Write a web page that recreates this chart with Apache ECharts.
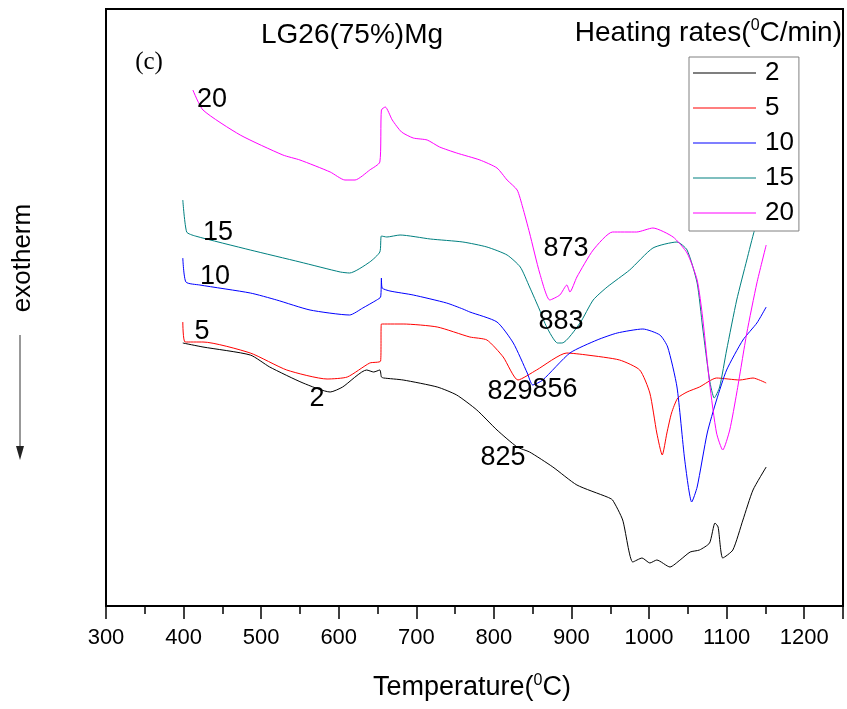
<!DOCTYPE html>
<html>
<head>
<meta charset="utf-8">
<script src="https://cdn.jsdelivr.net/npm/echarts@6/dist/echarts.min.js"></script>
<style>
  html, body { margin: 0; padding: 0; background: #fff; }
  #chart { width: 847px; height: 709px; }
</style>
</head>
<body>
<div id="chart"></div>
<script>
// heating rates (°C/min) and DSC traces, [temperature, signal a.u.]
const rates = ['2', '5', '10', '15', '20']
const colors = ['#000000', '#ff0000', '#0000ff', '#008080', '#ff00ff']

const rate2 = [[399,263],[425,259],[486,251],[511,239],[554,223],[589,214],[605,219],[636,236],[645,234],[653,236],[655,229],[658,228],[683,226],[727,219],[752,211],[778,196],[804,176],[830,159],[846,154],[876,139],[907,121],[946,109],[953,106],[966,86],[979,44],[991,48],[1001,43],[1010,46],[1027,39],[1040,46],[1053,54],[1065,56],[1078,63],[1085,83],[1089,79],[1095,48],[1108,56],[1121,86],[1134,116],[1151,139]]
const rate5 = [[399,284],[402,264],[425,264],[486,253],[533,236],[585,227],[611,229],[640,243],[654,245],[655,282],[683,282],[727,279],[769,269],[791,266],[812,249],[831,226],[855,236],[894,253],[920,251],[962,246],[988,236],[1001,213],[1010,173],[1017,151],[1023,173],[1029,193],[1037,208],[1049,214],[1065,219],[1087,228],[1117,226],[1134,228],[1151,223]]
const rate10 = [[399,348],[403,324],[421,321],[486,313],[520,306],[563,296],[614,291],[631,298],[649,306],[654,309],[655,328],[656,318],[666,315],[696,311],[739,303],[760,297],[769,294],[804,284],[825,263],[843,233],[850,221],[863,226],[898,253],[933,266],[959,273],[992,277],[1014,271],[1024,259],[1036,219],[1046,146],[1055,104],[1062,119],[1075,173],[1087,206],[1100,236],[1121,266],[1139,283],[1151,299]]
const rate15 = [[399,406],[404,374],[415,370],[486,356],[550,344],[602,334],[614,333],[640,344],[653,354],[655,370],[662,369],[679,371],[718,367],[760,364],[791,359],[817,351],[834,339],[846,319],[859,296],[868,279],[882,263],[888,263],[911,283],[928,306],[946,319],[975,336],[1005,358],[1036,364],[1049,356],[1062,323],[1069,279],[1078,226],[1084,208],[1091,219],[1100,256],[1113,306],[1126,346],[1136,376],[1151,411]]
const rate20 = [[412,516],[425,496],[473,471],[528,451],[550,446],[589,434],[608,426],[621,426],[640,436],[653,444],[655,496],[660,499],[669,486],[681,474],[696,468],[714,466],[730,459],[752,453],[782,446],[804,438],[817,426],[830,416],[837,399],[846,373],[859,333],[872,306],[885,311],[894,321],[898,314],[907,329],[928,356],[953,374],[984,374],[1005,378],[1031,369],[1049,353],[1062,326],[1069,289],[1078,223],[1087,173],[1095,156],[1104,176],[1113,213],[1126,273],[1139,323],[1151,361]]

const traces = [rate2, rate5, rate10, rate15, rate20]

const font = 'Liberation Sans, Arial, sans-serif'

const chart = echarts.init(document.getElementById('chart'))

// peak / curve labels
const notes = [
  ['20', 212, 100], ['15', 218, 233], ['10', 215, 277], ['5', 202, 332], ['2', 317, 399],
  ['873', 566, 249], ['883', 561, 322], ['829', 510, 392], ['856', 555, 390], ['825', 503, 458]
]

chart.setOption({
  backgroundColor: '#fff',
  animation: false,
  grid: { left: 106, right: 4, top: 9, bottom: 103, show: true, borderColor: '#000', borderWidth: 2 },
  xAxis: {
    type: 'value',
    min: 300,
    max: 1250,
    interval: 100,
    axisLine: { lineStyle: { color: '#000', width: 2 } },
    axisTick: { length: 13, lineStyle: { color: '#000', width: 1.5 } },
    minorTick: { show: true, splitNumber: 2, length: 8, lineStyle: { color: '#000', width: 1.5 } },
    splitLine: { show: false },
    minorSplitLine: { show: false },
    axisLabel: {
      color: '#000', fontSize: 22, fontFamily: font, margin: 21,
      formatter: v => (v > 1200 ? '' : String(v))
    }
  },
  yAxis: {
    type: 'value',
    min: 0,
    max: 597,
    axisLine: { show: true, lineStyle: { color: '#000', width: 2 } },
    axisTick: { show: false },
    axisLabel: { show: false },
    splitLine: { show: false }
  },
  legend: {
    orient: 'vertical',
    left: 689,
    top: 57,
    data: rates,
    icon: 'rect',
    itemWidth: 63,
    itemHeight: 1.2,
    itemGap: 9,
    padding: [3, 5, 5, 4],
    backgroundColor: '#fff',
    borderColor: '#808080',
    borderWidth: 1,
    textStyle: { color: '#000', fontSize: 26, fontFamily: font, lineHeight: 26, padding: [0, 0, 0, 4] }
  },
  series: rates.map((r, i) => ({
    name: r,
    type: 'line',
    data: traces[i],
    symbol: 'none',
    smooth: 0.2,
    color: colors[i],
    lineStyle: { width: 1, color: colors[i] },
    z: 2
  })),
  graphic: [
    {
      type: 'text', position: [352, 35],
      style: { text: 'LG26(75%)Mg', font: '28px ' + font, fill: '#000', align: 'center', verticalAlign: 'middle' }
    },
    {
      type: 'text', position: [842, 33],
      style: {
        text: '{a|Heating rates(}{s|0}{a|C/min)}', align: 'right', verticalAlign: 'middle',
        rich: {
          a: { fontSize: 28, fontFamily: font, fill: '#000', lineHeight: 30 },
          s: { fontSize: 16, fontFamily: font, fill: '#000', lineHeight: 30, verticalAlign: 'top' }
        }
      }
    },
    {
      type: 'text', position: [149, 62],
      style: { text: '(c)', font: '25px Liberation Serif, Times New Roman, serif', fill: '#000', align: 'center', verticalAlign: 'middle' }
    },
    {
      type: 'text', position: [472, 688],
      style: {
        text: '{a|Temperature(}{s|0}{a|C)}', align: 'center', verticalAlign: 'middle',
        rich: {
          a: { fontSize: 27, fontFamily: font, fill: '#000', lineHeight: 30 },
          s: { fontSize: 16, fontFamily: font, fill: '#000', lineHeight: 30, verticalAlign: 'top' }
        }
      }
    },
    {
      type: 'text', position: [23, 258], rotation: Math.PI / 2,
      style: { text: 'exotherm', font: '26px ' + font, fill: '#000', align: 'center', verticalAlign: 'middle' }
    },
    {
      type: 'line', shape: { x1: 20, y1: 335, x2: 20, y2: 450 },
      style: { stroke: '#333', lineWidth: 1 }
    },
    {
      type: 'polygon', shape: { points: [[16, 446], [24, 446], [20, 460]] },
      style: { fill: '#222' }
    }
  ].concat(notes.map(n => ({
    type: 'text', position: [n[1], n[2]], z: 10,
    style: { text: n[0], font: '27px ' + font, fill: '#000', align: 'center', verticalAlign: 'middle' }
  })))
})
</script>
</body>
</html>
